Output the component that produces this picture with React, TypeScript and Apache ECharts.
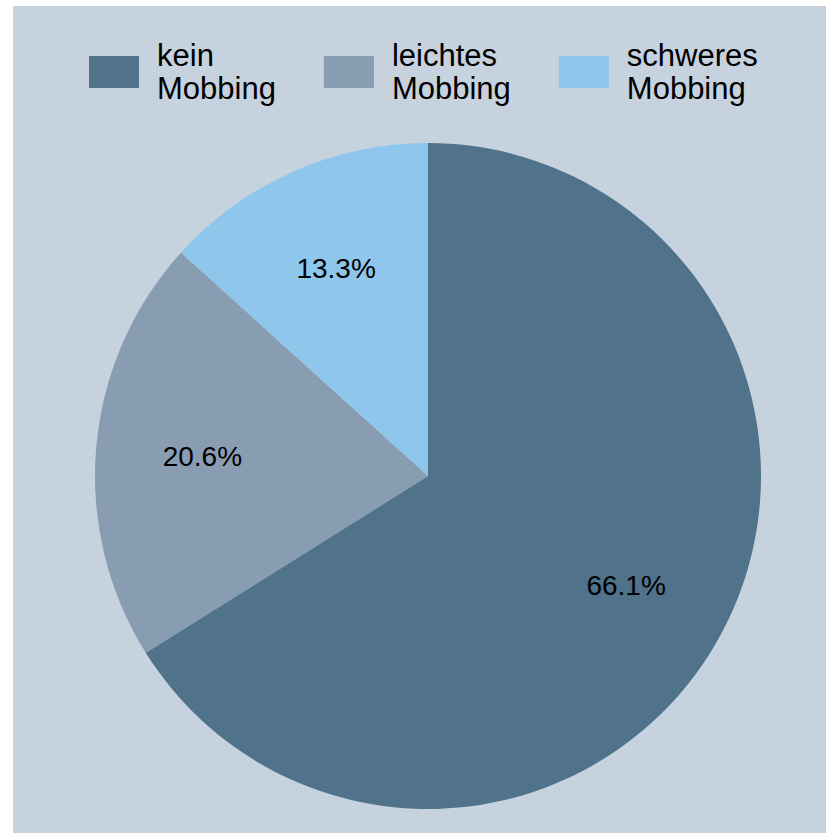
import React, { useEffect, useRef } from "react";
import * as echarts from "echarts";

const categories = ["kein Mobbing", "leichtes Mobbing", "schweres Mobbing"];
const shares = [66.1, 20.6, 13.3];
const colors = ["#50728a", "#889cb2", "#8fc6eb"];

const FONT = "'Liberation Sans', Arial, Helvetica, sans-serif";

export default function App() {
  const ref = useRef<HTMLDivElement>(null);

  useEffect(() => {
    if (!ref.current) return;
    const chart = echarts.init(ref.current, undefined, { renderer: "svg" });
    const data = categories.map((name, i) => ({
      name,
      value: shares[i],
      itemStyle: { color: colors[i] },
    }));
    chart.setOption({
      animation: false,
      backgroundColor: "#c6d2dd",
      legend: {
        data: categories,
        left: 76,
        top: 33,
        padding: 0,
        itemWidth: 50,
        itemHeight: 32,
        itemGap: 48,
        icon: "rect",
        selectedMode: false,
        formatter: (n: string) => n.replace(" ", "\n"),
        textStyle: {
          fontFamily: FONT,
          fontSize: 31,
          lineHeight: 33,
          color: "#000",
          padding: [0, 0, 0, 13],
        },
      },
      series: [
        {
          type: "pie",
          center: [415, 470],
          radius: [0, 333],
          startAngle: 90,
          clockwise: true,
          silent: true,
          label: { show: false },
          labelLine: { show: false },
          itemStyle: { borderWidth: 0 },
          data,
        },
        {
          type: "pie",
          center: [415, 470],
          radius: [114, 333],
          startAngle: 90,
          clockwise: true,
          silent: true,
          itemStyle: { color: "transparent", borderWidth: 0 },
          labelLine: { show: false },
          label: {
            show: true,
            position: "inside",
            fontFamily: FONT,
            fontSize: 28,
            color: "#000",
            formatter: (p: any) => p.value.toFixed(1) + "%",
          },
          data: categories.map((name, i) => ({ name, value: shares[i] })),
        },
      ],
    });
    return () => chart.dispose();
  }, []);

  return (
    <div
      ref={ref}
      style={{ position: "absolute", left: 13, top: 6, width: 813, height: 827 }}
    />
  );
}
